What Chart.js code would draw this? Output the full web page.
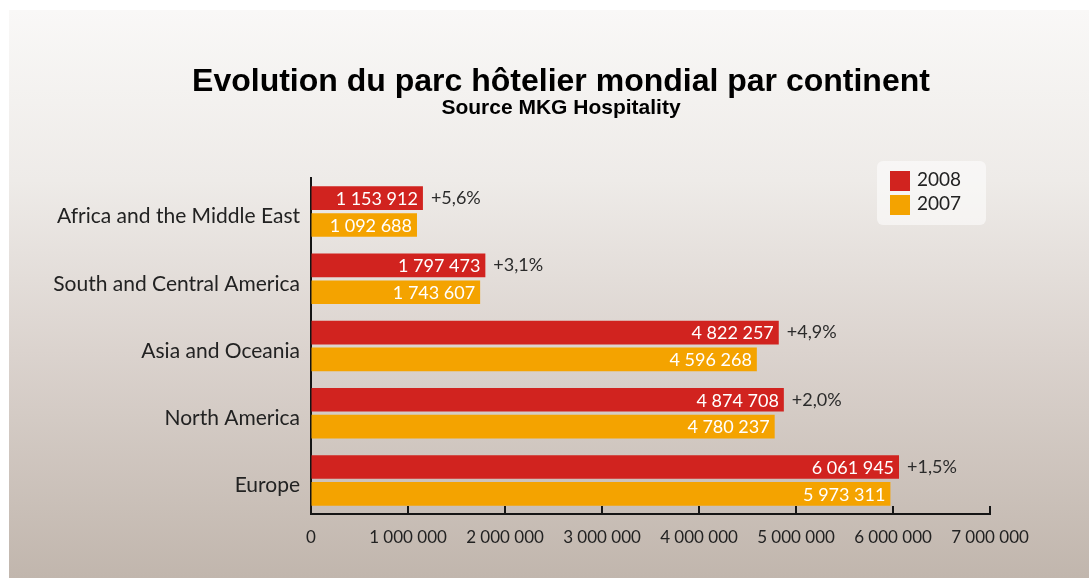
<!DOCTYPE html>
<html>
<head>
<meta charset="utf-8">
<script src="https://cdn.jsdelivr.net/npm/chart.js@4.4.1/dist/chart.umd.min.js"></script>
<style>
  html, body { margin: 0; padding: 0; background: #fff; }
  body { width: 1089px; height: 578px; overflow: hidden; position: relative; }
  #panel {
    position: absolute; left: 9px; top: 10px; width: 1080px; height: 568px;
    background: linear-gradient(to bottom, #f9f8f7 0%, #eeebe8 30%, #dbd3ce 60%, #c1b6ad 100%);
  }
  #panel canvas { display: block; }
</style>
</head>
<body>
<div id="panel"><canvas id="hotelChart" width="1080" height="568"></canvas></div>
<script>
  // données MKG Hospitality
  const continents = ['Africa and the Middle East', 'South and Central America', 'Asia and Oceania', 'North America', 'Europe'];
  const years = ['2008', '2007'];
  const rooms2008 = [1153912, 1797473, 4822257, 4874708, 6061945];
  const rooms2007 = [1092688, 1743607, 4596268, 4780237, 5973311];
  const growth = ['+5,6%', '+3,1%', '+4,9%', '+2,0%', '+1,5%'];
  const xTicks = [0, 1000000, 2000000, 3000000, 4000000, 5000000, 6000000, 7000000];

  const red = '#d1231f';
  const orange = '#f4a300';
  const labelFont = 'Lato';

  function fmt(n) {
    return String(n).replace(/\B(?=(\d{3})+(?!\d))/g, ' ');
  }

  // valeurs dans les barres + pourcentage
  const barLabels = {
    id: 'barLabels',
    afterDatasetsDraw(chart) {
      const ctx = chart.ctx;
      ctx.save();
      ctx.font = '18px ' + labelFont;
      ctx.textBaseline = 'middle';
      chart.data.datasets.forEach((ds, d) => {
        chart.getDatasetMeta(d).data.forEach((bar, i) => {
          ctx.fillStyle = '#fff';
          ctx.textAlign = 'right';
          ctx.fillText(fmt(ds.data[i]), bar.x - 5, bar.y + 1);
          if (d === 0) {
            ctx.fillStyle = '#2b2b2b';
            ctx.textAlign = 'left';
            ctx.fillText(growth[i], bar.x + 8, bar.y);
          }
        });
      });
      ctx.restore();
    }
  };

  // petites graduations vers le haut
  const axisTicks = {
    id: 'axisTicks',
    afterDraw(chart) {
      const sx = chart.scales.x;
      const b = chart.chartArea.bottom;
      const ctx = chart.ctx;
      ctx.save();
      ctx.strokeStyle = '#151515';
      ctx.lineWidth = 2;
      sx.ticks.forEach(t => {
        const px = Math.round(sx.getPixelForValue(t.value));
        ctx.beginPath();
        ctx.moveTo(px, b);
        ctx.lineTo(px, b - 8);
        ctx.stroke();
      });
      ctx.restore();
    }
  };

  // légende en boîte
  const boxLegend = {
    id: 'boxLegend',
    afterDraw(chart) {
      const ctx = chart.ctx;
      const x0 = 868, y0 = 151, w = 109, h = 64;
      ctx.save();
      ctx.fillStyle = 'rgba(255,255,255,0.55)';
      ctx.beginPath();
      ctx.roundRect(x0, y0, w, h, 6);
      ctx.fill();
      ctx.font = '19px ' + labelFont;
      ctx.textBaseline = 'middle';
      ctx.textAlign = 'left';
      chart.data.datasets.forEach((ds, i) => {
        const y = y0 + 10 + i * 24;
        ctx.fillStyle = ds.backgroundColor;
        ctx.fillRect(x0 + 13, y, 20, 20);
        ctx.fillStyle = '#222';
        ctx.fillText(ds.label, x0 + 40, y + 9);
      });
      ctx.restore();
    }
  };

  const ctx = document.getElementById('hotelChart');
  new Chart(ctx, {
    type: 'bar',
    data: {
      labels: continents,
      datasets: [{
        label: years[0],
        data: rooms2008,
        backgroundColor: red,
        categoryPercentage: 0.8,
        barPercentage: 0.88
      }, {
        label: years[1],
        data: rooms2007,
        backgroundColor: orange,
        categoryPercentage: 0.8,
        barPercentage: 0.88
      }]
    },
    options: {
      indexAxis: 'y',
      responsive: false,
      animation: false,
      devicePixelRatio: 1,
      layout: { padding: { top: 56, right: 0, bottom: 0, left: 24 } },
      plugins: {
        legend: { display: false },
        tooltip: { enabled: false },
        title: {
          display: true,
          text: 'Evolution du parc hôtelier mondial par continent',
          color: '#000',
          font: { family: 'Liberation Sans', size: 32, weight: 'bold', lineHeight: 1 },
          padding: { top: 0, bottom: 0 }
        },
        subtitle: {
          display: true,
          text: 'Source MKG Hospitality',
          color: '#000',
          font: { family: 'Liberation Sans', size: 21, weight: 'bold', lineHeight: 1 },
          padding: { top: 0, bottom: 59 }
        }
      },
      scales: {
        x: {
          min: 0,
          max: 7000000,
          afterFit: s => { s.height = 64; },
          afterBuildTicks: s => { s.ticks = xTicks.map(v => ({ value: v })); },
          ticks: {
            color: '#222',
            font: { family: labelFont, size: 17 },
            padding: 13,
            maxRotation: 0,
            callback: v => fmt(v)
          },
          grid: { display: true, drawOnChartArea: false, drawTicks: false },
          border: { display: true, color: '#151515', width: 2 }
        },
        y: {
          afterFit: s => { s.width = 278; },
          ticks: {
            color: '#222',
            font: { family: labelFont, size: 21 },
            padding: 11,
            labelOffset: 5
          },
          grid: { display: true, drawOnChartArea: false, drawTicks: false },
          border: { display: true, color: '#151515', width: 2 }
        },
        // empty right-hand margin (keeps the title centred on the page)
        yRight: {
          type: 'category',
          position: 'right',
          afterFit: s => { s.width = 99; },
          ticks: { display: false },
          grid: { display: false, drawTicks: false },
          border: { display: false }
        }
      }
    },
    plugins: [barLabels, axisTicks, boxLegend]
  });
</script>
</body>
</html>
